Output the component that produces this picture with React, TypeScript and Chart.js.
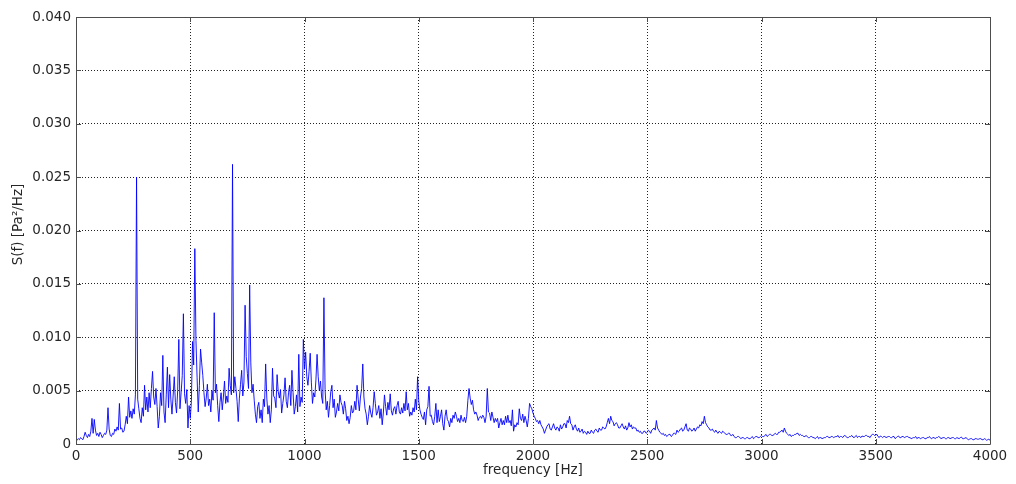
import React, { useEffect, useRef } from "react";
import { Chart, registerables } from "chart.js";

Chart.register(...registerables);

// Power spectral density S(f), in units of 1e-3 Pa^2/Hz, sampled every 5 Hz
const STEP_HZ = 5;
// Low band: 0 .. 2095 Hz
const LOW_START_HZ = 0;
const PSD_LOW = [
  0.2, 0.4, 0.5, 0.4, 0.6, 0.5, 0.4, 0.7, 1.1, 0.8, // 0-45
  0.6, 0.9, 0.7, 1.2, 2.4, 1.0, 2.3, 1.3, 0.8, 1.0, // 50-95
  0.7, 1.1, 0.9, 0.6, 0.8, 1.0, 0.9, 1.3, 3.4, 1.4, // 100-145
  0.8, 0.7, 1.0, 0.9, 1.4, 1.2, 1.6, 1.3, 3.8, 1.4, // 150-195
  1.5, 1.1, 1.2, 1.8, 2.6, 1.9, 4.4, 2.5, 3.1, 2.4, // 200-245
  3.3, 2.8, 4.6, 25.0, 4.2, 3.3, 2.4, 2.0, 3.4, 2.6, // 250-295
  5.5, 3.2, 4.4, 3.0, 4.8, 3.4, 5.2, 6.8, 4.4, 3.7, // 300-345
  5.2, 3.5, 1.5, 2.6, 4.8, 3.6, 8.3, 3.0, 2.0, 4.6, // 350-395
  7.2, 3.4, 6.5, 4.2, 2.8, 4.5, 6.3, 3.9, 2.9, 5.0, // 400-445
  9.8, 3.3, 4.8, 6.4, 12.2, 4.7, 3.8, 5.1, 1.5, 3.6, // 450-495
  2.4, 4.0, 9.6, 7.4, 18.3, 9.7, 6.2, 3.0, 5.5, 8.9, // 500-545
  7.6, 6.4, 4.8, 3.5, 4.3, 5.6, 3.6, 4.2, 3.0, 5.0, // 550-595
  4.1, 12.3, 4.8, 5.6, 3.6, 2.1, 3.9, 4.8, 3.2, 4.4, // 600-645
  5.9, 3.8, 4.5, 3.9, 7.1, 5.5, 4.6, 26.2, 4.8, 6.3, // 650-695
  5.2, 4.0, 2.1, 4.3, 5.6, 6.9, 4.5, 5.8, 13.0, 8.2, // 700-745
  6.6, 5.2, 14.9, 7.6, 4.8, 5.6, 4.1, 2.8, 2.0, 3.5, // 750-795
  3.9, 2.4, 3.2, 2.0, 4.2, 3.5, 7.5, 4.3, 2.8, 3.6, // 800-845
  2.0, 3.2, 7.1, 4.5, 4.3, 3.4, 6.5, 4.9, 4.3, 5.1, // 850-895
  2.9, 3.8, 4.6, 6.2, 4.0, 3.4, 4.8, 5.5, 3.6, 6.9, // 900-945
  4.8, 2.8, 3.5, 4.6, 3.0, 8.4, 3.5, 4.4, 3.9, 9.8, // 950-995
  7.0, 8.6, 6.3, 5.5, 6.8, 8.5, 5.8, 3.8, 4.8, 4.4, // 1000-1045
  6.0, 8.4, 6.3, 5.0, 5.9, 4.4, 3.8, 13.7, 5.1, 3.2, // 1050-1095
  4.0, 2.5, 3.6, 4.9, 5.5, 3.4, 4.2, 2.5, 3.0, 3.8, // 1100-1145
  3.1, 4.6, 3.9, 3.6, 2.8, 4.0, 3.3, 2.2, 2.6, 1.9, // 1150-1195
  2.5, 3.6, 2.9, 3.1, 4.0, 3.2, 5.5, 4.2, 3.1, 4.4, // 1200-1245
  5.2, 7.5, 4.4, 3.3, 2.8, 1.8, 2.6, 3.6, 2.9, 2.5, // 1250-1295
  3.4, 4.9, 3.8, 2.7, 3.0, 3.6, 2.4, 3.3, 1.8, 2.9, // 1300-1345
  4.6, 3.5, 2.7, 3.9, 3.2, 4.7, 3.1, 2.7, 3.3, 3.5, // 1350-1395
  2.8, 3.6, 4.0, 3.0, 2.8, 3.4, 2.9, 3.8, 3.1, 4.9, // 1400-1445
  3.2, 3.8, 2.6, 3.0, 2.7, 3.4, 3.0, 4.2, 3.2, 6.3, // 1450-1495
  4.0, 3.2, 2.8, 2.5, 2.3, 3.0, 1.8, 3.2, 3.5, 5.4, // 1500-1545
  2.6, 2.7, 2.1, 1.8, 2.6, 3.8, 2.0, 3.2, 2.1, 2.6, // 1550-1595
  3.2, 1.9, 1.3, 2.6, 3.2, 2.3, 2.1, 1.6, 2.4, 2.0, // 1600-1645
  2.7, 2.4, 3.0, 2.6, 2.1, 2.4, 2.0, 2.7, 2.2, 2.1, // 1650-1695
  2.5, 2.0, 2.6, 4.1, 5.2, 4.3, 3.7, 4.1, 3.2, 2.8, // 1700-1745
  3.0, 2.7, 2.2, 2.5, 2.6, 2.4, 2.7, 2.5, 2.0, 2.6, // 1750-1795
  5.2, 3.0, 2.9, 2.2, 3.0, 2.5, 2.0, 2.4, 2.1, 2.4, // 1800-1845
  1.5, 2.0, 2.4, 1.8, 2.2, 1.8, 2.6, 2.0, 2.7, 2.0, // 1850-1895
  2.2, 1.7, 3.2, 1.2, 1.8, 1.6, 2.0, 1.8, 3.3, 2.4, // 1900-1945
  2.2, 2.8, 2.0, 2.6, 2.2, 1.6, 2.4, 3.8, 3.5, 3.3, // 1950-1995
  2.9, 2.6, 2.4, 2.1, 2.2, 1.9, 2.2, 1.8, 1.6, 1.4, // 2000-2045
  1.0, 1.3, 1.6, 1.8, 1.9, 1.4, 1.3, 1.6, 1.9, 1.5, // 2050-2095
];

// High band: 2100 .. 4000 Hz
const HIGH_START_HZ = 2100;
const PSD_HIGH = [
  1.3, 1.6, 1.5, 1.2, 1.8, 1.4, 1.6, 1.9, 1.9, 1.5, 2.2, 2.0, 2.6, 1.9, 1.8, 1.3, 1.6, 1.8, 1.4, 1.2, // 2100-2195
  1.5, 1.1, 1.2, 1.4, 1.0, 1.2, 1.1, 0.9, 1.2, 1.0, 1.0, 1.3, 1.1, 1.0, 1.3, 1.4, 1.2, 1.1, 1.5, 1.3, // 2200-2295
  1.3, 1.6, 1.5, 1.4, 1.6, 2.0, 2.4, 1.9, 2.6, 2.2, 2.1, 1.7, 1.9, 2.0, 1.8, 1.5, 1.5, 1.7, 1.9, 1.6, // 2300-2395
  1.4, 1.7, 1.3, 1.5, 2.0, 1.6, 1.8, 1.4, 1.6, 1.5, 1.5, 1.2, 1.3, 1.1, 1.2, 1.0, 1.0, 1.2, 1.2, 1.0, // 2400-2495
  1.1, 1.3, 1.2, 1.0, 1.3, 1.4, 1.5, 1.3, 2.2, 1.5, 1.3, 1.1, 1.0, 0.9, 1.0, 0.8, 0.9, 0.7, 0.8, 0.9, // 2500-2595
  0.9, 0.7, 0.8, 1.0, 1.0, 0.9, 1.3, 1.1, 1.2, 1.4, 1.5, 1.2, 1.3, 1.6, 1.9, 1.3, 1.2, 1.5, 1.4, 1.2, // 2600-2695
  1.3, 1.5, 1.2, 1.4, 1.6, 1.5, 1.8, 1.7, 2.1, 1.9, 2.6, 2.0, 1.8, 1.6, 1.5, 1.3, 1.3, 1.4, 1.2, 1.1, // 2700-2795
  1.3, 1.1, 1.0, 1.2, 1.1, 1.0, 1.2, 1.1, 1.0, 0.9, 0.9, 1.0, 1.0, 0.8, 0.8, 0.9, 0.7, 0.6, 0.6, 0.7, // 2800-2895
  0.7, 0.6, 0.5, 0.6, 0.6, 0.5, 0.5, 0.6, 0.6, 0.5, 0.5, 0.6, 0.7, 0.5, 0.6, 0.7, 0.7, 0.6, 0.6, 0.7, // 2900-2995
  0.8, 0.7, 0.7, 0.8, 0.9, 0.7, 0.8, 0.9, 0.9, 0.8, 0.8, 0.9, 1.0, 0.9, 0.9, 1.1, 1.1, 1.2, 1.3, 1.1, // 3000-3095
  1.5, 1.2, 1.0, 0.9, 0.8, 0.9, 0.7, 0.8, 0.8, 0.9, 0.9, 1.0, 1.0, 0.8, 0.9, 0.8, 0.8, 0.7, 0.7, 0.8, // 3100-3195
  0.7, 0.6, 0.6, 0.7, 0.7, 0.6, 0.6, 0.5, 0.6, 0.7, 0.5, 0.6, 0.6, 0.5, 0.55, 0.6, 0.6, 0.7, 0.7, 0.6, // 3200-3295
  0.6, 0.7, 0.7, 0.6, 0.65, 0.7, 0.7, 0.8, 0.6, 0.7, 0.7, 0.6, 0.75, 0.8, 0.7, 0.6, 0.6, 0.7, 0.7, 0.8, // 3300-3395
  0.65, 0.6, 0.7, 0.8, 0.6, 0.7, 0.7, 0.6, 0.75, 0.7, 0.7, 0.8, 0.8, 0.7, 0.7, 0.6, 0.8, 0.9, 0.9, 0.8, // 3400-3495
  0.85, 0.9, 0.7, 0.6, 0.75, 0.7, 0.6, 0.7, 0.7, 0.6, 0.65, 0.7, 0.7, 0.6, 0.6, 0.7, 0.7, 0.5, 0.6, 0.7, // 3500-3595
  0.75, 0.6, 0.6, 0.7, 0.7, 0.6, 0.65, 0.7, 0.7, 0.6, 0.6, 0.5, 0.55, 0.6, 0.6, 0.7, 0.5, 0.6, 0.6, 0.5, // 3600-3695
  0.55, 0.6, 0.6, 0.5, 0.5, 0.6, 0.6, 0.7, 0.55, 0.5, 0.6, 0.6, 0.5, 0.6, 0.6, 0.7, 0.65, 0.5, 0.55, 0.6, // 3700-3795
  0.6, 0.5, 0.5, 0.6, 0.6, 0.5, 0.55, 0.6, 0.6, 0.5, 0.5, 0.6, 0.55, 0.5, 0.6, 0.65, 0.5, 0.5, 0.55, 0.6, // 3800-3895
  0.5, 0.4, 0.45, 0.5, 0.5, 0.4, 0.4, 0.5, 0.5, 0.45, 0.45, 0.5, 0.5, 0.4, 0.4, 0.5, 0.45, 0.35, 0.4, 0.45, // 3900-3995
  0.35, // 4000
];

const X_TICK_STEP = 500;
const X_MIN = 0;
const X_MAX = 4000;
const Y_TICK_STEP = 5;
const Y_MIN = 0;
const Y_MAX = 40;
const X_TITLE = "frequency [Hz]";
const Y_TITLE = "S(f) [Pa\u00B2/Hz]";

const FONT = "'DejaVu Sans', Verdana, sans-serif";
const TEXT_COLOR = "#262626";

const framePlugin = {
  id: "frame",
  afterDraw(chart: any) {
    const { ctx, chartArea, scales } = chart;
    const { left, right, top, bottom } = chartArea;
    ctx.save();
    ctx.strokeStyle = "#4d4d4d";
    ctx.lineWidth = 1;
    ctx.setLineDash([]);
    ctx.beginPath();
    ctx.rect(Math.round(left) + 0.5, Math.round(top) + 0.5, Math.round(right - left), Math.round(bottom - top));
    ctx.stroke();
    const tl = 5;
    ctx.beginPath();
    scales.x.ticks.forEach((t: any) => {
      const px = Math.round(scales.x.getPixelForValue(t.value)) + 0.5;
      ctx.moveTo(px, bottom);
      ctx.lineTo(px, bottom - tl);
      ctx.moveTo(px, top);
      ctx.lineTo(px, top + tl);
    });
    scales.y.ticks.forEach((t: any) => {
      const py = Math.round(scales.y.getPixelForValue(t.value)) + 0.5;
      ctx.moveTo(left, py);
      ctx.lineTo(left + tl, py);
      ctx.moveTo(right, py);
      ctx.lineTo(right - tl, py);
    });
    ctx.stroke();

    // axis titles
    ctx.fillStyle = TEXT_COLOR;
    ctx.font = `13.5px ${FONT}`;
    ctx.textAlign = "center";
    ctx.textBaseline = "middle";
    ctx.fillText(X_TITLE, (left + right) / 2, 470);
    ctx.translate(18, (top + bottom) / 2 - 6);
    ctx.rotate(-Math.PI / 2);
    ctx.fillText(Y_TITLE, 0, 0);
    ctx.restore();
  },
};

export default function App() {
  const ref = useRef<HTMLCanvasElement>(null);

  useEffect(() => {
    if (!ref.current) return;
    const lowPts = PSD_LOW.map((v, i) => ({ x: LOW_START_HZ + i * STEP_HZ, y: v }));
    const highPts = PSD_HIGH.map((v, i) => ({ x: HIGH_START_HZ + i * STEP_HZ, y: v }));
    const chart = new Chart(ref.current, {
      type: "line",
      data: {
        datasets: [
          {
            label: "S(f)",
            data: [...lowPts, ...highPts],
            borderColor: "rgb(0,0,255)",
            borderWidth: 0.9,
            pointRadius: 0,
            tension: 0,
            fill: false,
          },
        ],
      },
      options: {
        animation: false,
        responsive: false,
        devicePixelRatio: 1,
        layout: { padding: { top: 17, right: 26, left: 0, bottom: 0 } },
        plugins: {
          legend: { display: false },
          tooltip: { enabled: false },
        },
        scales: {
          x: {
            type: "linear",
            min: X_MIN,
            max: X_MAX,
            ticks: {
              stepSize: X_TICK_STEP,
              color: TEXT_COLOR,
              font: { family: FONT, size: 13.5 },
              padding: 4,
              maxRotation: 0,
              callback: (v: any) => String(v),
            },
            grid: {
              color: "#222",
              lineWidth: 1,
              drawTicks: false,
            },
            border: { display: false, dash: [1, 2] },
            afterFit(scale: any) {
              scale.height = 40;
            },
          },
          y: {
            type: "linear",
            min: Y_MIN,
            max: Y_MAX,
            ticks: {
              stepSize: Y_TICK_STEP,
              color: TEXT_COLOR,
              font: { family: FONT, size: 13.5 },
              padding: 5,
              callback: (v: any) => (v === 0 ? "0" : (Number(v) / 1000).toFixed(3)),
            },
            grid: {
              color: "#222",
              lineWidth: 1,
              drawTicks: false,
            },
            border: { display: false, dash: [1, 2] },
            afterFit(scale: any) {
              scale.width = 76;
            },
          },
        },
      },
      plugins: [framePlugin],
    });
    return () => chart.destroy();
  }, []);

  return (
    <div style={{ position: "fixed", left: 0, top: 0, width: 1016, height: 484, background: "#fff" }}>
      <canvas ref={ref} width={1016} height={484} style={{ display: "block" }} />
    </div>
  );
}
